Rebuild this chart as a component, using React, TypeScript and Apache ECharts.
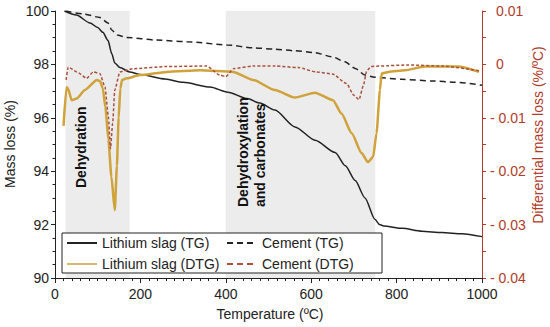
import React, { useEffect, useRef } from "react";
import * as echarts from "echarts";

// ---- data ----
const lsTgT = [22, 50, 82, 100, 112, 124, 133, 140, 152, 175, 200, 258, 300, 363, 405, 450, 480, 515, 562, 609, 656, 680, 703, 726, 749, 760, 770, 813, 859, 906, 953, 1000];
const lsTgV = [100.0, 99.85, 99.55, 99.38, 99.2, 98.9, 98.4, 98.05, 97.88, 97.72, 97.62, 97.45, 97.33, 97.15, 96.96, 96.72, 96.55, 96.29, 95.66, 95.16, 94.7, 94.2, 93.65, 93.0, 92.2, 92.0, 91.95, 91.86, 91.75, 91.7, 91.66, 91.55];

const ceTgT = [25, 66, 105, 124, 133, 145, 168, 238, 309, 403, 464, 515, 562, 609, 648, 679, 703, 726, 749, 813, 883, 937, 1000];
const ceTgV = [100, 99.89, 99.76, 99.55, 99.29, 99.1, 99.01, 98.91, 98.85, 98.73, 98.62, 98.57, 98.51, 98.44, 98.29, 98.1, 97.85, 97.6, 97.52, 97.44, 97.38, 97.33, 97.22];

const lsDtgT = [20, 27, 30, 39, 51, 70, 98, 106, 112, 118, 125, 132, 140, 145, 149, 153, 157, 168, 199, 262, 340, 417, 464, 515, 562, 609, 651, 671, 695, 718, 733, 745, 753, 761, 765, 781, 820, 866, 944, 993];
const lsDtgV = [-0.0115, -0.0043, -0.0044, -0.0067, -0.0064, -0.0048, -0.0029, -0.0032, -0.0045, -0.008, -0.014, -0.021, -0.0273, -0.019, -0.01, -0.0045, -0.0029, -0.0026, -0.002, -0.0014, -0.0011, -0.0014, -0.0029, -0.0048, -0.0062, -0.0053, -0.0067, -0.0092, -0.0129, -0.0166, -0.0183, -0.0173, -0.0129, -0.0048, -0.0017, -0.0014, -0.0011, -0.0004, -0.0004, -0.0014];

const ceDtgT = [26, 31, 51, 74, 90, 105, 117, 125, 130, 135, 140, 152, 183, 262, 355, 386, 400, 418, 464, 515, 570, 611, 650, 683, 700, 712, 722, 730, 740, 760, 827, 906, 993];
const ceDtgV = [-0.0029, -0.0005, -0.0014, -0.0026, -0.0014, -0.0017, -0.0042, -0.0098, -0.0158, -0.011, -0.0048, -0.0014, -0.0008, -0.0004, -0.0003, -0.002, -0.0023, -0.0008, -0.0003, -0.0003, -0.0006, -0.0014, -0.0018, -0.0036, -0.0058, -0.0066, -0.004, -0.0012, -0.0004, -0.0003, -0.0001, -0.0003, -0.0012];

const shadedRanges = [[25, 175], [400, 750]];
const seriesNames = ["Lithium slag (TG)", "Lithium slag (DTG)", "Cement (TG)", "Cement (DTG)"];

const zip = (a: number[], b: number[]) => a.map((t, i) => [t, b[i]]);

const FONT = "'Liberation Sans', Arial, sans-serif";
const RED = "#b03c2a";
const GOLD = "#cfa23a";
const BROWN = "#a9503a";

export default function App() {
  const ref = useRef<HTMLDivElement>(null);
  useEffect(() => {
    if (!ref.current) return;
    const chart = echarts.init(ref.current, undefined, { renderer: "svg" });
    const fmtRight = (v: number) => {
      if (Math.abs(v) < 1e-9) return "{p|0}";
      if (v > 0) return "{p|" + v.toFixed(2) + "}";
      return "- " + Math.abs(v).toFixed(2);
    };
    const legendCommon = {
      orient: "vertical",
      top: 236,
      itemWidth: 30,
      itemHeight: 14,
      itemGap: 7,
      padding: 0,
      selectedMode: false,
      itemStyle: { opacity: 0 },
      textStyle: { fontSize: 14, color: "#222", fontFamily: FONT },
    };
    chart.setOption({
      animation: false,
      textStyle: { fontFamily: FONT },
      grid: { left: 55, right: 68, top: 11, bottom: 49 },
      xAxis: {
        type: "value",
        min: 0,
        max: 1000,
        interval: 200,
        axisLine: { onZero: false, lineStyle: { color: "#222", width: 1 } },
        axisTick: { length: 5, lineStyle: { color: "#222" } },
        minorTick: { show: true, splitNumber: 10, length: 3, lineStyle: { color: "#222" } },
        splitLine: { show: false },
        axisLabel: { fontSize: 14, color: "#222", margin: 9, fontFamily: FONT, formatter: (v: number) => String(v) },
      },
      yAxis: [
        {
          type: "value",
          min: 90,
          max: 100,
          interval: 2,
          axisLine: { show: true, onZero: false, lineStyle: { color: "#222" } },
          axisTick: { show: true, length: 4, lineStyle: { color: "#222" } },
          minorTick: { show: true, splitNumber: 4, length: 2.5, lineStyle: { color: "#222" } },
          splitLine: { show: false },
          axisLabel: { fontSize: 14, color: "#222", margin: 6, fontFamily: FONT },
        },
        {
          type: "value",
          position: "right",
          min: -0.04,
          max: 0.01,
          interval: 0.01,
          axisLine: { show: true, onZero: false, lineStyle: { color: RED } },
          axisTick: { show: true, length: 4, lineStyle: { color: RED } },
          minorTick: { show: true, splitNumber: 2, length: 4, lineStyle: { color: RED } },
          splitLine: { show: false },
          axisLabel: {
            fontSize: 14,
            color: RED,
            margin: 8,
            fontFamily: FONT,
            formatter: fmtRight,
            rich: { p: { padding: [0, 0, 0, 6], fontSize: 14, color: RED, fontFamily: FONT } },
          },
        },
      ],
      legend: [
        {
          ...legendCommon,
          data: [seriesNames[0], { name: seriesNames[1], lineStyle: { width: 1.5 } }],
          left: 66,
        },
        {
          ...legendCommon,
          data: [seriesNames[2], { name: seriesNames[3], lineStyle: { type: [6, 4] } }],
          left: 226,
        },
      ],
      graphic: [
        {
          type: "rect",
          z: 3,
          shape: { x: 62, y: 233, width: 320, height: 40 },
          style: { fill: "#fff", stroke: "#222", lineWidth: 1 },
        },
        {
          type: "text",
          x: 81,
          y: 188,
          rotation: Math.PI / 2,
          z: 5,
          style: { text: "Dehydration", font: "bold 14px " + FONT, fill: "#111", textAlign: "left", textVerticalAlign: "middle" },
        },
        {
          type: "text",
          x: 251,
          y: 207,
          rotation: Math.PI / 2,
          z: 5,
          style: {
            text: "Dehydroxylation\nand carbonates",
            font: "bold 14px " + FONT,
            lineHeight: 17,
            fill: "#111",
            textAlign: "left",
            textVerticalAlign: "middle",
          },
        },
        {
          type: "text",
          x: 270,
          y: 314,
          z: 5,
          style: { text: "Temperature (ºC)", font: "14px " + FONT, fill: "#222", textAlign: "center", textVerticalAlign: "middle" },
        },
        {
          type: "text",
          x: 10,
          y: 144,
          rotation: Math.PI / 2,
          z: 5,
          style: { text: "Mass loss (%)", font: "14px " + FONT, fill: "#222", textAlign: "center", textVerticalAlign: "middle" },
        },
        {
          type: "text",
          x: 538,
          y: 135,
          rotation: Math.PI / 2,
          z: 5,
          style: { text: "Differential mass loss (%/ºC)", font: "14px " + FONT, fill: RED, textAlign: "center", textVerticalAlign: "middle" },
        },
      ],
      series: [
        {
          name: seriesNames[0],
          type: "line",
          yAxisIndex: 0,
          data: zip(lsTgT, lsTgV),
          symbol: "none",
          smooth: 0.25,
          smoothMonotone: "x",
          lineStyle: { color: "#222", width: 1.5 },
          itemStyle: { color: "#222" },
          markArea: {
            silent: true,
            itemStyle: { color: "#ececec" },
            data: shadedRanges.map((r) => [{ xAxis: r[0] }, { xAxis: r[1] }]),
          },
        },
        {
          name: seriesNames[2],
          type: "line",
          yAxisIndex: 0,
          data: zip(ceTgT, ceTgV),
          symbol: "none",
          smooth: 0.25,
          smoothMonotone: "x",
          lineStyle: { color: "#222", width: 1.5, type: [6, 4] },
          itemStyle: { color: "#222" },
        },
        {
          name: seriesNames[1],
          type: "line",
          yAxisIndex: 1,
          data: zip(lsDtgT, lsDtgV),
          symbol: "none",
          smooth: 0.2,
          smoothMonotone: "x",
          lineStyle: { color: GOLD, width: 2.5 },
          itemStyle: { color: GOLD },
        },
        {
          name: seriesNames[3],
          type: "line",
          yAxisIndex: 1,
          data: zip(ceDtgT, ceDtgV),
          symbol: "none",
          smooth: 0.2,
          smoothMonotone: "x",
          lineStyle: { color: BROWN, width: 1.5, type: [3, 2] },
          itemStyle: { color: BROWN },
        },
      ],
    });
    return () => chart.dispose();
  }, []);
  return <div ref={ref} style={{ position: "absolute", left: 0, top: 0, width: 550, height: 327 }} />;
}
